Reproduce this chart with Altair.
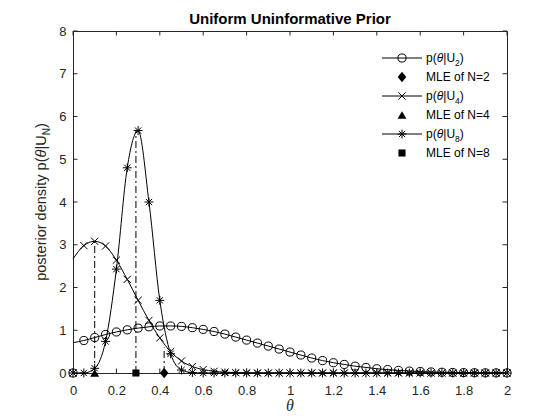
import altair as alt
import pandas as pd

# ---------------- data ----------------
THETA = [0.0, 0.05, 0.10, 0.15, 0.20, 0.25, 0.30, 0.35, 0.40, 0.45,
         0.50, 0.55, 0.60, 0.65, 0.70, 0.75, 0.80, 0.85, 0.90, 0.95,
         1.00, 1.05, 1.10, 1.15, 1.20, 1.25, 1.30, 1.35, 1.40, 1.45,
         1.50, 1.55, 1.60, 1.65, 1.70, 1.75, 1.80, 1.85, 1.90, 1.95, 2.00]

P_U2 = [0, 0.76, 0.83, 0.90, 0.96, 1.01, 1.05, 1.08, 1.10, 1.10,
        1.09, 1.06, 1.02, 0.97, 0.91, 0.84, 0.77, 0.70, 0.63, 0.56,
        0.49, 0.42, 0.35, 0.29, 0.24, 0.20, 0.16, 0.13, 0.10, 0.08,
        0.06, 0.045, 0.035, 0.025, 0.018, 0.013, 0.009, 0.006, 0.004, 0.003, 0.002]

P_U4 = [0, 2.98, 3.08, 2.97, 2.64, 2.19, 1.70, 1.23, 0.82, 0.50,
        0.28, 0.15, 0.08, 0.04, 0.02, 0.01, 0.004, 0, 0, 0,
        0, 0, 0, 0, 0, 0, 0, 0, 0, 0,
        0, 0, 0, 0, 0, 0, 0, 0, 0, 0, 0]

P_U8 = [0, 0, 0.11, 0.74, 2.43, 4.80, 5.67, 4.00, 1.70, 0.45,
        0.07, 0.01, 0, 0, 0, 0, 0, 0, 0, 0,
        0, 0, 0, 0, 0, 0, 0, 0, 0, 0,
        0, 0, 0, 0, 0, 0, 0, 0, 0, 0, 0]

# value of each curve's line at theta = 0 (the markers there sit on the axis)
LINE_START = [0.71, 2.67, 0.0]

MLE_THETA = [0.42, 0.10, 0.29]
MLE_DROP = [0.60, 3.08, 5.67]

X_TICKS = [0, 0.2, 0.4, 0.6, 0.8, 1.0, 1.2, 1.4, 1.6, 1.8, 2.0]
Y_TICKS = [0, 1, 2, 3, 4, 5, 6, 7, 8]

TITLE = "Uniform Uninformative Prior"

# ---------------- layout ----------------
W, H = 434, 342
FONT = "Liberation Sans"
AX = "#262626"
TICK = 4.5

xs = alt.Scale(domain=[0, 2], nice=False, zero=False)
ys = alt.Scale(domain=[0, 8], nice=False, zero=False)
XAX = alt.Axis(values=X_TICKS, format="~g")
YAX = alt.Axis(values=Y_TICKS, format="~g")


def XE(field="t"):
    return alt.X(f"{field}:Q", scale=xs, title=None, axis=XAX)


def YE(field="p"):
    return alt.Y(f"{field}:Q", scale=ys, title=None, axis=YAX)


X_SHAPE = "M -1 -1 L 1 1 M -1 1 L 1 -1"
STAR_SHAPE = "M -1 0 L 1 0 M 0 -1 L 0 1 M -0.7 -0.7 L 0.7 0.7 M -0.7 0.7 L 0.7 -0.7"
DIAMOND = "M 0 -1 L 0.8 0 L 0 1 L -0.8 0 Z"

series = [
    ("U2", P_U2, "circle", 66),
    ("U4", P_U4, X_SHAPE, 52),
    ("U8", P_U8, STAR_SHAPE, 80),
]
mle_shapes = [(DIAMOND, 115), ("triangle-up", 80), ("square", 50)]

layers = []

# curves
for i, (name, vals, shape, size) in enumerate(series):
    line_df = pd.DataFrame({"t": [0.0] + THETA[1:], "p": [LINE_START[i]] + vals[1:]})
    pt_df = pd.DataFrame({"t": THETA, "p": vals})
    layers.append(alt.Chart(line_df).mark_line(color="black", strokeWidth=1,
                                               interpolate="monotone")
                  .encode(x=XE(), y=YE()))
    layers.append(alt.Chart(pt_df).mark_point(shape=shape, size=size, filled=False,
                                              color="black", strokeWidth=1, opacity=1)
                  .encode(x=XE(), y=YE()))

# MLE dash-dot drops and markers
drop_df = pd.DataFrame({"t": MLE_THETA, "lo": [0, 0, 0], "hi": MLE_DROP})
layers.append(alt.Chart(drop_df).mark_rule(color="black", strokeWidth=1, strokeDash=[7, 3, 2, 3])
              .encode(x=XE(), y=YE("lo"), y2="hi:Q"))
for j, (shape, size) in enumerate(mle_shapes):
    mdf = pd.DataFrame({"t": [MLE_THETA[j]], "p": [0]})
    layers.append(alt.Chart(mdf).mark_point(shape=shape, size=size, filled=True, color="black",
                                            opacity=1, strokeWidth=0.5)
                  .encode(x=XE(), y=YE()))

# inward ticks on all four sides
xt = pd.DataFrame({"t": X_TICKS})
yt = pd.DataFrame({"p": Y_TICKS})
for (a, b) in [(H, H - TICK), (0, TICK)]:
    layers.append(alt.Chart(xt).mark_rule(color=AX, strokeWidth=1)
                  .encode(x=XE(), y=alt.value(a), y2=alt.value(b)))
for (a, b) in [(0, TICK), (W, W - TICK)]:
    layers.append(alt.Chart(yt).mark_rule(color=AX, strokeWidth=1)
                  .encode(y=YE(), x=alt.value(a), x2=alt.value(b)))

# ---------------- text helpers ----------------
CW = {'p': .556, 'o': .556, 's': .5, 't': .278, 'e': .556, 'r': .333, 'i': .222, ' ': .278,
      'd': .556, 'n': .556, 'y': .5, '(': .333, ')': .333, '|': .26, 'U': .722, 'N': .722,
      'θ': .556, '2': .556, '4': .556, '8': .556}


def tw(s, size):
    return sum(CW.get(c, .556) for c in s) * size


one = pd.DataFrame({"a": [0]})


def rich(segs, x0, y0, rotate=False, color="black"):
    out = []
    cum = 0.0
    for text, size, style, shift in segs:
        if rotate:
            x, y, ang = x0 + shift, y0 - cum, 270
        else:
            x, y, ang = x0 + cum, y0 + shift, 0
        out.append(alt.Chart(one).mark_text(text=text, font=FONT, fontSize=size, fontStyle=style,
                                            align="left", baseline="alphabetic", angle=ang,
                                            color=color)
                   .encode(x=alt.value(x), y=alt.value(y)))
        cum += tw(text, size)
    return out


# legend
legend_y = [27, 46, 65, 84, 103, 122]
LX0, LX1, LM, LT = 309, 349, 329, 353
subs = ["2", "4", "8"]
for i in range(3):
    ly = legend_y[2 * i]
    name, vals, shape, size = series[i]
    layers.append(alt.Chart(one).mark_rule(color="black", strokeWidth=1)
                  .encode(x=alt.value(LX0), x2=alt.value(LX1), y=alt.value(ly)))
    layers.append(alt.Chart(one).mark_point(shape=shape, size=size, filled=False, color="black",
                                            strokeWidth=1, opacity=1)
                  .encode(x=alt.value(LM), y=alt.value(ly)))
    layers += rich([("p(", 12, "normal", 0), ("θ", 12, "italic", 0), ("|U", 12, "normal", 0),
                    (subs[i], 8.5, "normal", 3.5), (")", 12, "normal", 0)], LT, ly + 4.3)
    my = legend_y[2 * i + 1]
    mshape, msize = mle_shapes[i]
    layers.append(alt.Chart(one).mark_point(shape=mshape, size=msize, filled=True, color="black",
                                            opacity=1, strokeWidth=0.5)
                  .encode(x=alt.value(LM), y=alt.value(my)))
    layers += rich([("MLE of N=" + subs[i], 12, "normal", 0)], LT, my + 4.3)

# y-axis title (rotated, with subscript N)
ysegs = [("posterior density p(", 14.5, "normal", 0), ("θ", 14.5, "italic", 0),
         ("|U", 14.5, "normal", 0), ("N", 10, "normal", 3.5), (")", 14.5, "normal", 0)]
total = sum(tw(s[0], s[1]) for s in ysegs)
layers += rich(ysegs, -27, H / 2 + total / 2, rotate=True, color=AX)

# x-axis title
layers.append(alt.Chart(one).mark_text(text="θ", font="Liberation Serif", fontSize=16,
                                       fontStyle="italic", align="center", baseline="alphabetic",
                                       color=AX)
              .encode(x=alt.value(W / 2), y=alt.value(H + 38)))

# chart title
layers.append(alt.Chart(one).mark_text(text=TITLE, font=FONT, fontSize=15, fontWeight="bold",
                                       align="center", baseline="alphabetic", color="black")
              .encode(x=alt.value(W / 2), y=alt.value(-7.5)))

chart = (alt.layer(*layers)
         .properties(width=W, height=H,
                     autosize=alt.AutoSizeParams(type="none"),
                     padding={"left": 65, "top": 23, "right": 30, "bottom": 40},
                     background="white")
         .configure_view(stroke=AX, strokeWidth=1)
         .configure_axis(domain=False, ticks=False, tickSize=0, grid=False, labelFont=FONT,
                         labelFontSize=13, labelColor=AX, labelFlush=False, labelOverlap=False)
         .configure_axisX(labelPadding=11)
         .configure_axisY(labelPadding=7))

chart.save("out.html", embed_options={"renderer": "svg", "actions": False})
